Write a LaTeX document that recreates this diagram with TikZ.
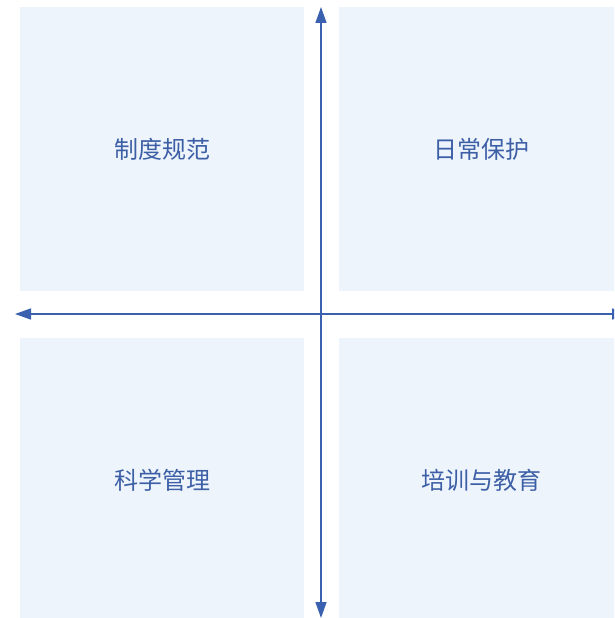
\documentclass[tikz,border=0pt]{standalone}
\usepackage{fontspec}
\setmainfont{Noto Sans CJK SC}
\usetikzlibrary{arrows.meta}
\definecolor{boxfill}{HTML}{EDF4FC}
\definecolor{linecol}{HTML}{3A60B0}
\definecolor{txtcol}{HTML}{3D5FA6}
\tikzset{
  quad/.style={fill=boxfill, draw=none, minimum width=284pt, minimum height=284pt, inner sep=0pt,
    text=txtcol, font=\fontsize{24}{28}\selectfont},
  axis/.style={draw=linecol, line width=1.5pt, {Triangle[length=16pt,width=11pt]}-{Triangle[length=16pt,width=11pt]}}
}
\begin{document}
\begin{tikzpicture}[x=1pt,y=-1pt]
\useasboundingbox (0,0) rectangle (614,618);
\clip (0,0) rectangle (614,618);
\node[quad] (tl) at (162,149) {制度规范};
\node[quad] (tr) at (481,149) {日常保护};
\node[quad] (bl) at (162,480) {科学管理};
\node[quad] (br) at (481,480) {培训与教育};
\coordinate (top) at (321,7);
\coordinate (bot) at (321,618);
\coordinate (left) at (15,314);
\coordinate (right) at (628,314);
\draw[axis] (bot) -- (top);
\draw[axis] (left) -- (right);
\end{tikzpicture}
\end{document}
